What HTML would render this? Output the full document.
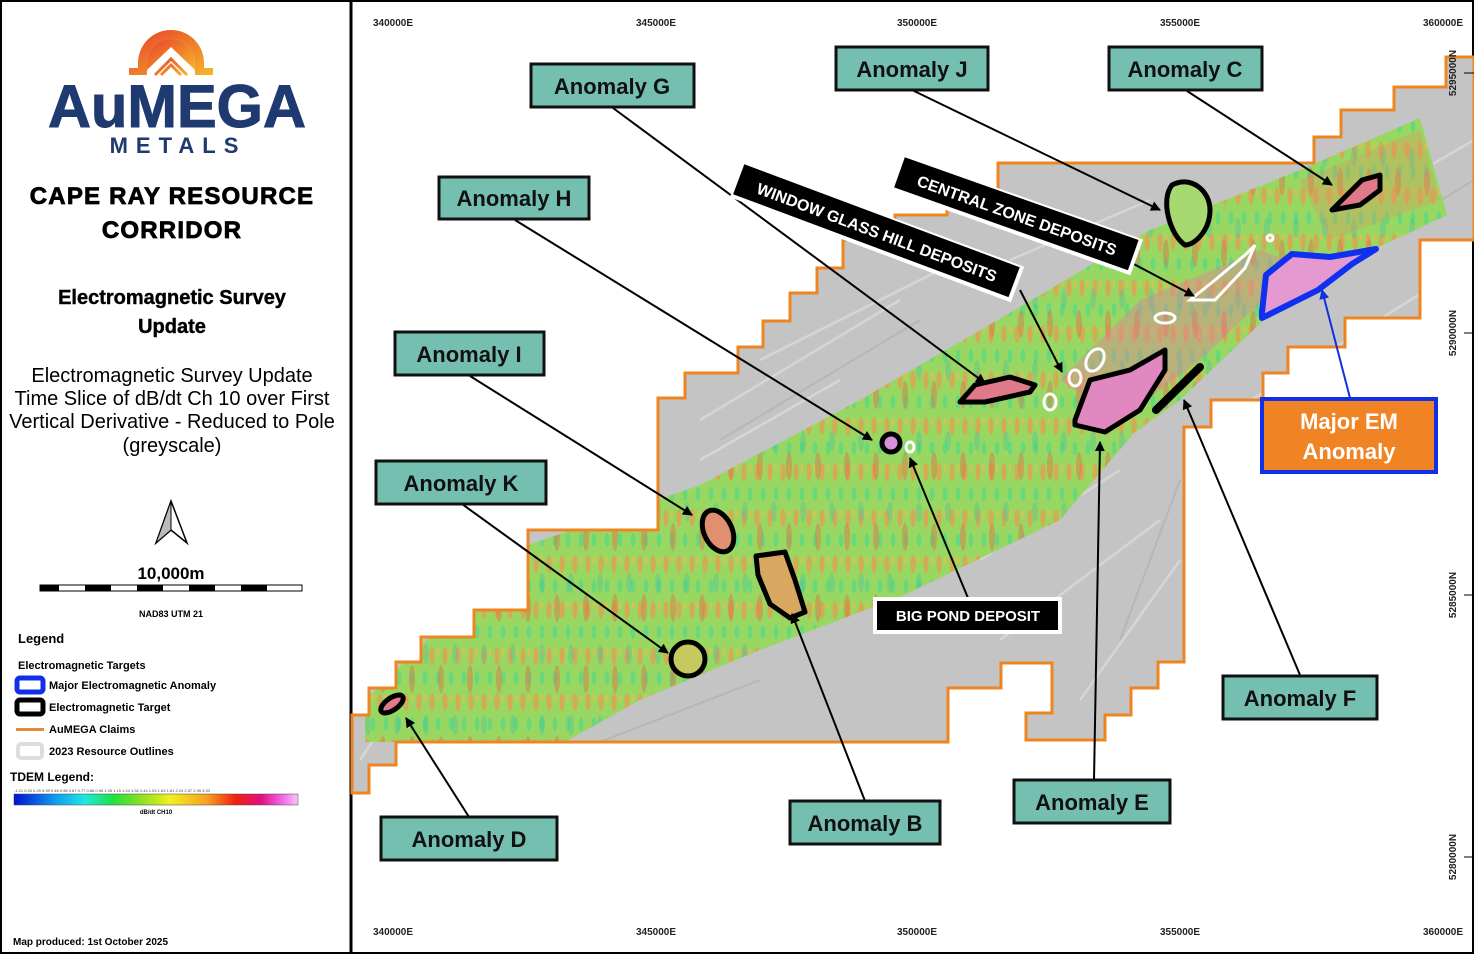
<!DOCTYPE html>
<html><head><meta charset="utf-8"><style>
html,body{margin:0;padding:0;background:#fff}
body{width:1474px;height:954px;overflow:hidden;position:relative;font-family:"Liberation Sans",sans-serif}
</style></head><body>
<svg width="1474" height="954" viewBox="0 0 1474 954" xmlns="http://www.w3.org/2000/svg" style="position:absolute;left:0;top:0">
<defs>
<clipPath id="claim"><path id="claimp" d="M352,715 L369,715 L369,688 L396,688 L396,662 L421,662 L421,637 L474,637 L474,610 L528,610 L528,530 L658,530 L658,398 L685,398 L685,373 L738,373 L738,347 L763,347 L763,321 L790,321 L790,293 L817,293 L817,268 L843,268 L843,240 L895,240 L895,215 L947,215 L947,208 L998,208 L998,163 L1314,163 L1314,137 L1341,137 L1341,110 L1394,110 L1394,87 L1446,87 L1446,57 L1474,57 L1474,240 L1420,240 L1420,318 L1345,318 L1345,347 L1288,347 L1288,373 L1263,373 L1263,400 L1211,400 L1211,427 L1184,427 L1184,662 L1158,662 L1158,688 L1131,688 L1131,715 L1105,715 L1105,740 L1026,740 L1026,713 L1052,713 L1052,663 L1001,663 L1001,688 L948,688 L948,742 L396,742 L396,765 L369,765 L369,793 L352,793 Z"/></clipPath>
<clipPath id="bandc"><path d="M365,700 L520,548 L700,485 L860,400 L1020,307 L1150,230 L1300,170 L1420,118 L1447,215 L1330,270 L1266,318 L1180,400 L1134,433 L1060,520 L900,597 L760,650 L640,700 L565,742 L365,742 Z"/></clipPath>
<pattern id="stripes" width="13" height="46" patternUnits="userSpaceOnUse">
<rect width="13" height="46" fill="#98d862"/>
<ellipse cx="3" cy="12" rx="2.6" ry="9" fill="#e4a050" opacity="0.8"/>
<ellipse cx="9" cy="34" rx="2.4" ry="7" fill="#5cd880" opacity="0.8"/>
<ellipse cx="9" cy="8" rx="1.5" ry="4" fill="#e8c04a" opacity="0.7"/>
</pattern>
<pattern id="stripes2" width="29" height="71" patternUnits="userSpaceOnUse">
<rect width="29" height="71" fill="none"/>
<ellipse cx="6" cy="40" rx="3" ry="14" fill="#e07048" opacity="0.45"/>
<ellipse cx="20" cy="15" rx="3" ry="10" fill="#40c0a0" opacity="0.35"/>
</pattern>
<linearGradient id="arch" x1="0" y1="0" x2="1" y2="1"><stop offset="0" stop-color="#e8402a"/><stop offset="1" stop-color="#f6b62a"/></linearGradient>
<marker id="ah" markerWidth="10" markerHeight="10" refX="9" refY="5" orient="auto" markerUnits="userSpaceOnUse"><path d="M0,0 L10,5 L0,10 Z" fill="#000"/></marker>
<marker id="ahb" markerWidth="10" markerHeight="10" refX="9" refY="5" orient="auto" markerUnits="userSpaceOnUse"><path d="M0,0 L10,5 L0,10 Z" fill="#1030e0"/></marker>
</defs>

<rect x="1" y="1" width="1472" height="952" fill="none" stroke="#000" stroke-width="2"/>
<line x1="351" y1="0" x2="351" y2="954" stroke="#000" stroke-width="3"/>

<g clip-path="url(#claim)">
<rect x="352" y="0" width="1122" height="954" fill="#c4c4c4"/>
<g opacity="0.55" stroke="#e6e6e6" stroke-width="2.5" fill="none">
<path d="M700,420 L900,300 M760,360 L980,250 M1200,300 L1474,140 M1220,420 L1474,260 M1190,500 L1330,380 M980,560 L1120,470 M1000,640 L1160,520 M360,760 L400,700 M1240,470 L1400,330 M1010,260 L1150,200 M700,460 L840,380 M1080,700 L1180,560"/>
</g>
<g stroke="#a8a8a8" stroke-width="2" fill="none" opacity="0.5">
<path d="M720,440 L920,320 M1230,330 L1474,180 M1120,640 L1180,480 M600,742 L760,680"/>
</g>
<g clip-path="url(#bandc)">
<rect x="352" y="100" width="1122" height="660" fill="url(#stripes)"/>
<rect x="352" y="100" width="1122" height="660" fill="url(#stripes2)"/>
</g>
<path d="M1060,380 L1140,300 L1260,250 L1300,265 L1200,360 L1120,420 Z" fill="#e47aa0" opacity="0.4"/>
<path d="M1300,180 L1420,130 L1440,200 L1330,240 Z" fill="#e88a60" opacity="0.3"/>
</g>
<use href="#claimp" fill="none" stroke="#ee8422" stroke-width="3"/>

<g fill="#e07a8a" stroke="#000" stroke-width="5" stroke-linejoin="round">
<path d="M1332,210 L1362,180 L1380,175 L1380,190 L1360,205 Z"/>
<path d="M1172,185 C1190,175 1210,190 1210,210 C1210,230 1195,245 1185,245 C1170,235 1160,200 1172,185 Z" fill="#a8d870"/>
<path d="M960,402 L975,385 L1010,377 L1035,385 L1030,392 L985,402 Z"/>
<path d="M1075,420 L1090,380 L1130,370 L1165,350 L1165,370 L1140,410 L1105,432 L1075,425 Z" fill="#e288c0"/>
<circle cx="891" cy="443" r="9" fill="#d890d8"/>
<ellipse cx="718" cy="531" rx="14" ry="22" transform="rotate(-25 718 531)" fill="#e09070"/>
<path d="M756,556 L785,552 L795,580 L805,612 L790,618 L770,604 L758,575 Z" fill="#d8a860"/>
<circle cx="688" cy="659" r="17" fill="#c8c860"/>
<ellipse cx="392" cy="704" rx="6" ry="13" transform="rotate(55 392 704)"/>
</g>
<line x1="1156" y1="410" x2="1200" y2="367" stroke="#000" stroke-width="8" stroke-linecap="round"/>
<path d="M1262,312 L1266,275 L1292,254 L1330,257 L1376,249 L1352,264 L1318,290 L1262,318 Z" fill="#e49ad0" stroke="#1030f0" stroke-width="6" stroke-linejoin="round"/>
<g fill="none" stroke="#fff" stroke-width="3">
<path d="M1190,300 L1215,280 L1245,255 L1255,245 L1245,268 L1215,300 Z"/>
<ellipse cx="1165" cy="318" rx="10" ry="5"/><ellipse cx="1270" cy="238" rx="3" ry="3"/>
<ellipse cx="1095" cy="360" rx="8" ry="12" transform="rotate(30 1095 360)"/>
<ellipse cx="1075" cy="378" rx="6" ry="8"/><ellipse cx="1050" cy="402" rx="6" ry="8"/>
<ellipse cx="910" cy="447" rx="4" ry="5"/>
</g>

<g stroke="#000" stroke-width="2" fill="none" marker-end="url(#ah)">
<line x1="613" y1="108" x2="985" y2="383"/>
<line x1="912" y1="90" x2="1160" y2="210"/>
<line x1="1187" y1="91" x2="1332" y2="185"/>
<line x1="515" y1="220" x2="872" y2="440"/>
<line x1="470" y1="376" x2="692" y2="515"/>
<line x1="462" y1="504" x2="668" y2="653"/>
<line x1="469" y1="817" x2="406" y2="718"/>
<line x1="865" y1="801" x2="792" y2="614"/>
<line x1="1094" y1="780" x2="1100" y2="442"/>
<line x1="1300" y1="675" x2="1184" y2="400"/>
<line x1="968" y1="598" x2="910" y2="458"/>
<line x1="1020" y1="290" x2="1062" y2="372"/>
<line x1="1130" y1="262" x2="1194" y2="296"/>
</g>
<line x1="1350" y1="398" x2="1322" y2="290" stroke="#1030e0" stroke-width="2" marker-end="url(#ahb)"/>

<g font-family="Liberation Sans, sans-serif" font-weight="bold" font-size="22" text-anchor="middle" fill="#111">
<g fill="#75bfb1" stroke="#111" stroke-width="3">
<rect x="531" y="64" width="163" height="43"/>
<rect x="836" y="47" width="152" height="43"/>
<rect x="1109" y="47" width="153" height="43"/>
<rect x="439" y="177" width="150" height="42"/>
<rect x="395" y="332" width="149" height="43"/>
<rect x="376" y="461" width="170" height="43"/>
<rect x="381" y="817" width="176" height="43"/>
<rect x="790" y="801" width="150" height="43"/>
<rect x="1014" y="780" width="156" height="43"/>
<rect x="1223" y="676" width="154" height="43"/>
</g>
<text x="612" y="94">Anomaly G</text>
<text x="912" y="77">Anomaly J</text>
<text x="1185" y="77">Anomaly C</text>
<text x="514" y="206">Anomaly H</text>
<text x="469" y="362">Anomaly I</text>
<text x="461" y="491">Anomaly K</text>
<text x="469" y="847">Anomaly D</text>
<text x="865" y="831">Anomaly B</text>
<text x="1092" y="810">Anomaly E</text>
<text x="1300" y="706">Anomaly F</text>
</g>
<rect x="1262" y="399" width="174" height="73" fill="#f08424" stroke="#1030e8" stroke-width="4"/>
<text x="1349" y="429" font-family="Liberation Sans, sans-serif" font-weight="bold" font-size="22" fill="#fff" text-anchor="middle">Major EM</text>
<text x="1349" y="459" font-family="Liberation Sans, sans-serif" font-weight="bold" font-size="22" fill="#fff" text-anchor="middle">Anomaly</text>

<rect x="873" y="597" width="189" height="37" fill="#fff"/>
<rect x="877" y="601" width="181" height="29" fill="#000"/>
<text x="968" y="621" font-family="Liberation Sans, sans-serif" font-weight="bold" font-size="15" fill="#fff" text-anchor="middle">BIG POND DEPOSIT</text>

<g transform="translate(877,232) rotate(20.5)">
<rect x="-150" y="-19" width="300" height="38" fill="#fff"/>
<rect x="-148" y="-17" width="294" height="32" fill="#000"/>
<text x="0" y="6" font-family="Liberation Sans, sans-serif" font-weight="bold" font-size="16" fill="#fff" text-anchor="middle">WINDOW GLASS HILL DEPOSITS</text>
</g>
<g transform="translate(1017,215) rotate(19.5)">
<rect x="-127" y="-19" width="254" height="38" fill="#fff"/>
<rect x="-125" y="-17" width="248" height="32" fill="#000"/>
<text x="0" y="6" font-family="Liberation Sans, sans-serif" font-weight="bold" font-size="16" fill="#fff" text-anchor="middle">CENTRAL ZONE DEPOSITS</text>
</g>

<g font-family="Liberation Sans, sans-serif" font-weight="bold" font-size="10" fill="#222" text-anchor="middle">
<text x="393" y="26">340000E</text><text x="656" y="26">345000E</text><text x="917" y="26">350000E</text><text x="1180" y="26">355000E</text><text x="1443" y="26">360000E</text>
<text x="393" y="935">340000E</text><text x="656" y="935">345000E</text><text x="917" y="935">350000E</text><text x="1180" y="935">355000E</text><text x="1443" y="935">360000E</text>
<text transform="translate(1456,73) rotate(-90)">5295000N</text>
<text transform="translate(1456,333) rotate(-90)">5290000N</text>
<text transform="translate(1456,595) rotate(-90)">5285000N</text>
<text transform="translate(1456,857) rotate(-90)">5280000N</text>
</g>
<g stroke="#000" stroke-width="1">
<line x1="1464" y1="73" x2="1474" y2="73"/><line x1="1464" y1="333" x2="1474" y2="333"/><line x1="1464" y1="595" x2="1474" y2="595"/><line x1="1464" y1="857" x2="1474" y2="857"/>
</g>

<path d="M138,68 L138,63 A33,33 0 0 1 204,63 L204,68 L213,68 L213,75 L195,75 L195,63 A24,24 0 0 0 147,63 L147,75 L129,75 L129,68 Z" fill="url(#arch)"/>
<path d="M147,63 A24,24 0 0 1 195,63 L195,70 L171,47 L147,70 Z" fill="url(#arch)"/>
<path d="M155,75 L171,59 L187,75 M161,75 L171,65 L181,75" stroke="url(#arch)" stroke-width="3" fill="none"/>
<text x="177" y="127" font-family="Liberation Sans, sans-serif" font-weight="bold" font-size="60" fill="#1e3a70" stroke="#1e3a70" stroke-width="1" text-anchor="middle" textLength="258" lengthAdjust="spacingAndGlyphs">AuMEGA</text>
<text x="178" y="153" font-family="Liberation Sans, sans-serif" font-weight="bold" font-size="22" fill="#1e3a70" text-anchor="middle" letter-spacing="8">METALS</text>

<g font-family="Liberation Sans, sans-serif" text-anchor="middle" fill="#000">
<text x="172" y="204" font-weight="bold" font-size="24" stroke="#000" stroke-width="0.8" letter-spacing="1.2">CAPE RAY RESOURCE</text>
<text x="172" y="238" font-weight="bold" font-size="24" stroke="#000" stroke-width="0.8" letter-spacing="1.2">CORRIDOR</text>
<text x="172" y="304" font-weight="bold" font-size="20" stroke="#000" stroke-width="0.4">Electromagnetic Survey</text>
<text x="172" y="333" font-weight="bold" font-size="20" stroke="#000" stroke-width="0.4">Update</text>
<text x="172" y="382" font-size="20">Electromagnetic Survey Update</text>
<text x="172" y="405" font-size="20">Time Slice of dB/dt Ch 10 over First</text>
<text x="172" y="428" font-size="20">Vertical Derivative - Reduced to Pole</text>
<text x="172" y="452" font-size="20">(greyscale)</text>
<text x="171" y="579" font-weight="bold" font-size="17">10,000m</text>
<text x="171" y="617" font-weight="bold" font-size="9">NAD83 UTM 21</text>
</g>
<path d="M171,501 L156,543 L171,530 L187,543 Z" fill="#fff" stroke="#000" stroke-width="1.5"/>
<path d="M171,501 L156,543 L171,530 Z" fill="#bbb" stroke="#000" stroke-width="1"/>
<g>
<rect x="40" y="585" width="262" height="6" fill="#fff" stroke="#000" stroke-width="1"/>
<rect x="40" y="585" width="19" height="6" fill="#000"/><rect x="85" y="585" width="26" height="6" fill="#000"/><rect x="137" y="585" width="26" height="6" fill="#000"/><rect x="189" y="585" width="26" height="6" fill="#000"/><rect x="241" y="585" width="26" height="6" fill="#000"/>
</g>

<g font-family="Liberation Sans, sans-serif" fill="#000">
<text x="18" y="643" font-size="13" font-weight="bold">Legend</text>
<text x="18" y="669" font-size="11" font-weight="bold">Electromagnetic Targets</text>
<rect x="17" y="678" width="26" height="14" rx="3" fill="#fff" stroke="#1030e8" stroke-width="5"/>
<text x="49" y="689" font-size="11" font-weight="bold">Major Electromagnetic Anomaly</text>
<rect x="17" y="700" width="26" height="14" rx="3" fill="#fff" stroke="#000" stroke-width="5"/>
<text x="49" y="711" font-size="11" font-weight="bold">Electromagnetic Target</text>
<rect x="16" y="728" width="28" height="3" fill="#e8883a"/>
<text x="49" y="733" font-size="11" font-weight="bold">AuMEGA Claims</text>
<rect x="18" y="744" width="24" height="14" rx="3" fill="#fff" stroke="#ddd" stroke-width="4"/>
<text x="49" y="755" font-size="11" font-weight="bold">2023 Resource Outlines</text>
<text x="10" y="781" font-size="12" font-weight="bold">TDEM Legend:</text>
<text x="14" y="792" font-size="4" fill="#444">-1.21 0.20 0.29 0.39 0.48 0.58 0.67 0.77 0.86 0.96 1.05 1.15 1.24 1.34 1.44 1.53 1.63 1.81 2.19 2.57 2.95 3.33</text>
<text x="156" y="814" font-size="6" font-weight="bold" text-anchor="middle">dB/dt CH10</text>
<text x="13" y="945" font-size="10" font-weight="bold">Map produced: 1st October 2025</text>
</g>
<defs><linearGradient id="tdem" x1="0" x2="1"><stop offset="0" stop-color="#0010d0"/><stop offset="0.15" stop-color="#10a0f0"/><stop offset="0.25" stop-color="#20e8e0"/><stop offset="0.35" stop-color="#20e040"/><stop offset="0.45" stop-color="#90e020"/><stop offset="0.55" stop-color="#f0f020"/><stop offset="0.68" stop-color="#f8a020"/><stop offset="0.78" stop-color="#f02010"/><stop offset="0.87" stop-color="#e01080"/><stop offset="0.95" stop-color="#f070f0"/><stop offset="1" stop-color="#f8c8f8"/></linearGradient></defs>
<rect x="14" y="794" width="284" height="11" fill="url(#tdem)" stroke="#444" stroke-width="0.5"/>
</svg>
</body></html>
